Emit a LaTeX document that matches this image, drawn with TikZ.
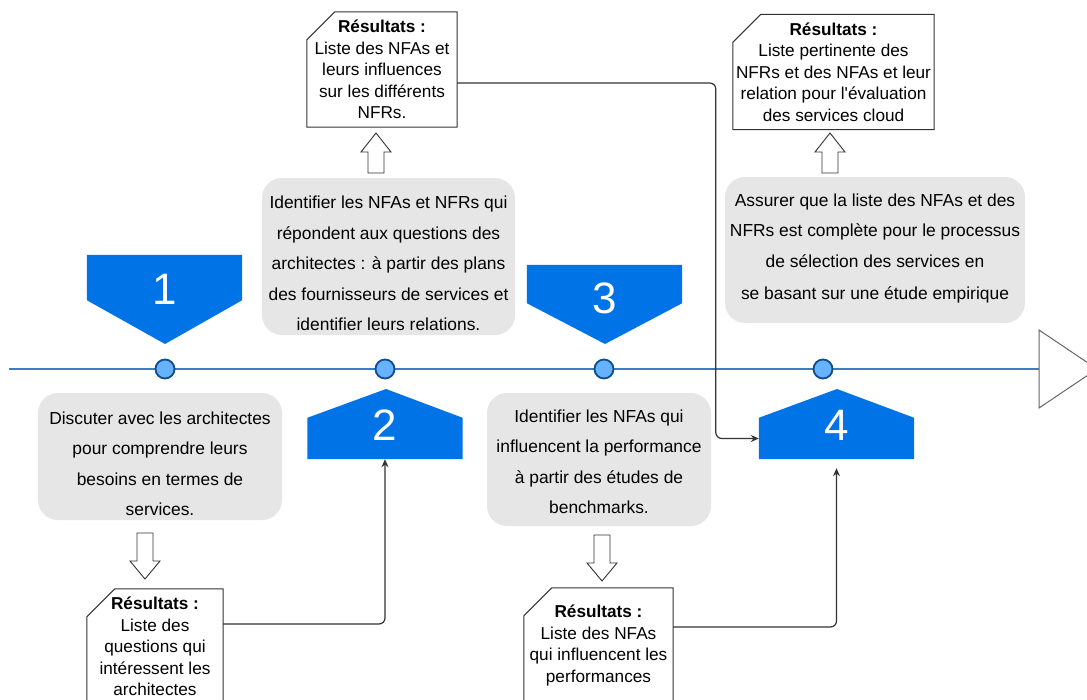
\documentclass[tikz,border=0pt]{standalone}
\usepackage{fontspec}
\setmainfont{Liberation Sans}
\usetikzlibrary{arrows.meta}
\definecolor{stepblue}{HTML}{0073E6}
\definecolor{dotfill}{HTML}{66B2FF}
\definecolor{dotline}{HTML}{0F4C8A}
\definecolor{lineblue}{HTML}{3B7DC4}
\definecolor{boxgray}{HTML}{E6E6E6}
\definecolor{linkgray}{HTML}{333333}
\begin{document}
\begin{tikzpicture}[x = 1pt, y = -1pt,
    stepbody/.style = {inner sep = 0pt, minimum width = 155pt},
    stepnum/.style = {text = white, inner sep = 0pt, font = \fontsize{44}{44}\selectfont},
    stepnote/.style = {fill = boxgray, rounded corners = 20pt, inner sep = 0pt},
    notetext/.style = {align = center, inner sep = 0pt, font = \fontsize{17.4}{30.5}\selectfont},
    resbox/.style = {fill = white, minimum height = 115pt, align = center, inner sep = 0pt, font = \fontsize{17.2}{21.5}\selectfont},
    cardline/.style = {draw = linkgray, line width = 1pt},
    hollow/.style = {draw = linkgray, fill = white, line width = 0.9pt},
    dot/.style = {circle, fill = dotfill, draw = dotline, line width = 1.8pt, minimum size = 19pt, inner sep = 0pt},
    link/.style = {draw = linkgray, line width = 1.2pt, rounded corners = 6pt, -{Stealth[length = 8pt, width = 7pt]}}]
    \useasboundingbox (0, 0) rectangle (1087, 699);
    \clip (0, 0) rectangle (1087, 699);
    \draw [lineblue, line width = 2pt] (9, 369) -- (1039, 369);
    \draw [gray!80!black, line width = 1pt, fill = white] (1039, 330) -- (1097, 369) -- (1039, 408) -- cycle;
    \foreach \x [count = \i] in {165, 385, 604, 823}
        \node [dot] (dot\i) at (\x, 369) {};
    \node [stepbody, minimum height = 45pt] (s1) at (164.5, 277.5) {};
    \fill [stepblue] (s1.north west) -- (s1.north east) -- (s1.south east) -- (165, 344) -- (s1.south west) -- cycle;
    \node [stepnum] (n1) at (165, 289) {1};
    \node [stepbody, minimum height = 38pt] (s3) at (604.5, 284) {};
    \fill [stepblue] (s3.north west) -- (s3.north east) -- (s3.south east) -- (605, 344) -- (s3.south west) -- cycle;
    \node [stepnum] (n3) at (605, 298) {3};
    \node [stepbody, minimum height = 41pt] (s2) at (385, 438.5) {};
    \fill [stepblue] (s2.south west) -- (s2.north west) -- (386, 389) -- (s2.north east) -- (s2.south east) -- cycle;
    \node [stepnum] (n2) at (385, 425) {2};
    \node [stepbody, minimum height = 41pt] (s4) at (836.5, 438.5) {};
    \fill [stepblue] (s4.south west) -- (s4.north west) -- (837, 389) -- (s4.north east) -- (s4.south east) -- cycle;
    \node [stepnum] (n4) at (837, 425) {4};
    \node [stepnote, minimum width = 244pt, minimum height = 127pt] (noteA) at (160, 456.5) {};
    \node [notetext] (textA) at (160, 464)
        {Discuter avec les architectes\\pour comprendre leurs\\besoins en termes de\\services.};
    \node [stepnote, minimum width = 253pt, minimum height = 157pt] (noteB) at (388.5, 256.5) {};
    \node [notetext] (textB) at (388.5, 263.5)
        {Identifier les NFAs et NFRs qui\\répondent aux questions des\\architectes : à partir des plans\\des fournisseurs de services et\\identifier leurs relations.};
    \node [stepnote, minimum width = 224pt, minimum height = 133pt] (noteC) at (599, 459.5) {};
    \node [notetext] (textC) at (599, 462)
        {Identifier les NFAs qui\\influencent la performance\\à partir des études de\\benchmarks.};
    \node [stepnote, minimum width = 300pt, minimum height = 146pt] (noteD) at (875, 250) {};
    \node [notetext] (textD) at (875, 248.5)
        {Assurer que la liste des NFAs et des\\NFRs est complète pour le processus\\de sélection des services en\\[2pt]se basant sur une étude empirique};
    \node [resbox, minimum width = 150pt] (res2) at (382, 69.5)
        {\textbf{Résultats :}\\Liste des NFAs et\\leurs influences\\sur les différents\\NFRs.};
    \node [resbox, minimum width = 201pt] (res4) at (833.5, 72)
        {\textbf{Résultats :}\\Liste pertinente des\\NFRs et des NFAs et leur\\relation pour l\textquotesingle évaluation\\des services cloud};
    \node [resbox, minimum width = 136pt] (res1) at (155, 646.5)
        {\textbf{Résultats :}\\Liste des\\questions qui\\intéressent les\\architectes};
    \node [resbox, minimum width = 149pt] (res3) at (598.5, 645.5)
        {\textbf{Résultats :}\\Liste des NFAs\\qui influencent les\\performances};
    \foreach \r in {res1, res2, res3, res4}
        \draw [cardline] (\r.south west) -- ([yshift = -28pt]\r.north west) -- ([xshift = 28pt]\r.north west) -- (\r.north east) -- (\r.south east) -- cycle;
    \foreach \x / \y in {376 / 133, 830 / 133}
        \draw [hollow] (\x, \y) -- ++(15, 19) -- ++(-7, 0) -- ++(0, 21) -- ++(-16, 0) -- ++(0, -21) -- ++(-7, 0) -- cycle;
    \foreach \x / \y in {145 / 579, 602 / 581}
        \draw [hollow] (\x, \y) -- ++(15, -18) -- ++(-7, 0) -- ++(0, -28) -- ++(-16, 0) -- ++(0, 28) -- ++(-7, 0) -- cycle;
    \draw [link] ([yshift = -13.5pt]res2.east) -| ([xshift = -43pt]s4.west) -- (s4.west);
    \draw [link] ([yshift = 22.5pt]res1.east) -| (s2.south);
    \draw [link, shorten > = 9pt] ([yshift = 18.5pt]res3.east) -| (s4.south);
\end{tikzpicture}
\end{document}
